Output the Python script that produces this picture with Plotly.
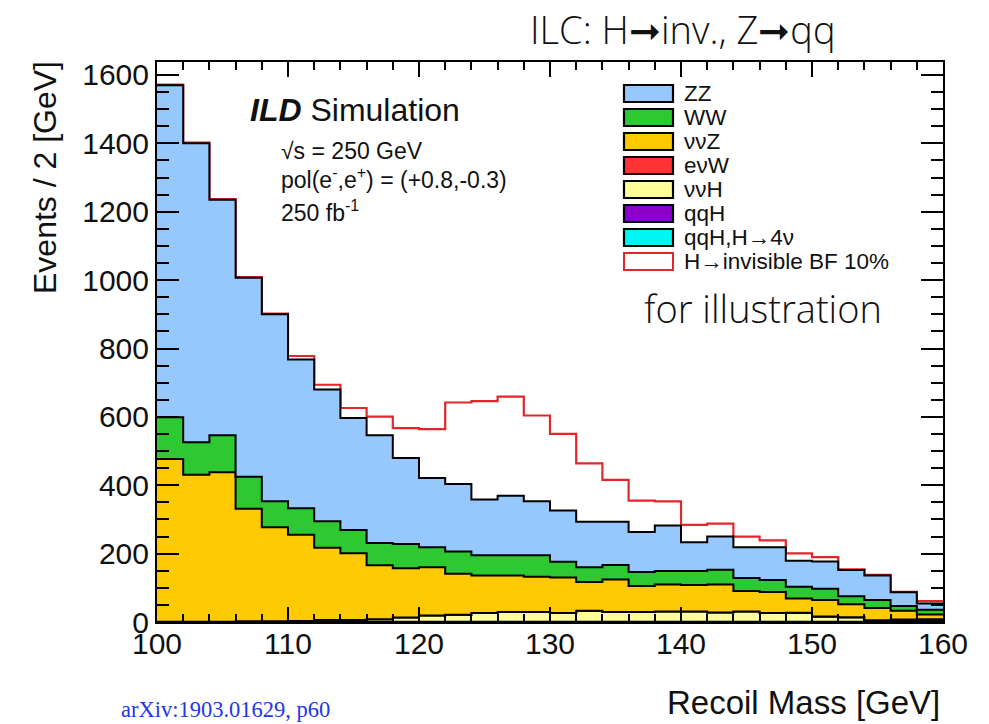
import plotly.graph_objects as go

# Recoil mass bins: 2 GeV wide, 100-160 GeV (lower edges)
bin_low = list(range(100, 160, 2))
bin_width = 2

# Stacked backgrounds, events per bin (250 fb^-1)
zz = [971, 874, 689, 582, 547, 435, 385, 328, 315, 252, 202, 198, 163, 174, 158,
      150, 133, 126, 117, 133, 84, 97, 90, 96, 76, 80, 77, 72, 40, 18]
ww = [122, 95, 108, 94, 76, 78, 78, 68, 65, 71, 59, 65, 59, 59, 63,
      46, 43, 43, 41, 39, 41, 43, 38, 35, 34, 33, 23, 23, 14, 14]
nnz = [476, 430, 437, 329, 275, 252, 211, 195, 158, 144, 141, 120, 110, 107, 103,
       104, 84, 95, 76, 79, 77, 82, 60, 62, 42, 48, 38, 36, 26, 14]
enw = [0, 0, 0, 0, 0, 0, 0, 0, 0, 0, 0, 0, 0, 0, 0,
       0, 0, 0, 0, 0, 0, 0, 0, 0, 1, 1, 1, 1, 2, 3]
nnh = [0, 0, 0, 1, 1, 2, 5, 5, 7, 12, 18, 20, 25, 28, 28,
       25, 32, 28, 28, 30, 30, 27, 30, 25, 25, 14, 12, 3, 3, 3]
qqh = [1, 1, 1, 1, 1, 1, 1, 1, 1, 1, 1, 1, 1, 1, 1,
       1, 1, 1, 1, 1, 1, 1, 1, 1, 1, 1, 1, 1, 1, 1]
qqh_4nu = [0, 0, 0, 0, 0, 0, 0, 0, 0, 0, 0, 0, 0, 0, 0,
           0, 0, 0, 0, 0, 0, 0, 0, 0, 0, 0, 0, 0, 1, 1]
# H -> invisible signal (BF 10%), drawn on top of the background sum
h_inv = [2, 2, 2, 2, 2, 10, 14, 29, 55, 87, 143, 238, 288, 290, 251,
         224, 171, 123, 92, 71, 51, 38, 31, 20, 22, 13, 2, 2, 1, 7]

# Stack order, bottom to top: (label, values, fill colour)
stack = [
    ("qqH,H\u21924\u03bd", qqh_4nu, "#00f5f5"),
    ("qqH", qqh, "#8a00c8"),
    ("\u03bd\u03bdH", nnh, "#ffff99"),
    ("e\u03bdW", enw, "#ff3333"),
    ("\u03bd\u03bdZ", nnz, "#fdc900"),
    ("WW", ww, "#2ec832"),
    ("ZZ", zz, "#96c8fd"),
]
legend_order = ["ZZ", "WW", "\u03bd\u03bdZ", "e\u03bdW", "\u03bd\u03bdH", "qqH",
                "qqH,H\u21924\u03bd"]

edges = bin_low + [bin_low[-1] + bin_width]


def steps(vals):
    # repeat the last bin so the 'hv' step closes at the upper edge
    return list(vals) + [vals[-1]]


fig = go.Figure()

total = [sum(s[1][i] for s in stack) for i in range(len(bin_low))]
sig_line = [t + s for t, s in zip(total, h_inv)]
fig.add_trace(go.Scatter(
    x=edges, y=steps(sig_line), mode="lines",
    line=dict(shape="hv", color="#e3262b", width=2.2),
    showlegend=False, hoverinfo="skip"))

for name, vals, col in stack:
    fig.add_trace(go.Scatter(
        x=edges, y=steps(vals), mode="lines", name=name,
        line=dict(shape="hv", color="black", width=2),
        fillcolor=col, stackgroup="bkg",
        showlegend=False, hoverinfo="skip"))

# pixel helpers for the plot frame (157..943 x 62..622)
L, R, T, B = 157, 943, 62, 622


def px(x):
    return (x - L) / (R - L)


def py(y):
    return (B - y) / (B - T)


shapes = []
annotations = []
colours = {n: c for n, _, c in stack}
row_y = [93.5 + 24 * i for i in range(8)]
for i, name in enumerate(legend_order + ["H\u2192invisible BF 10%"]):
    y = row_y[i]
    if i < len(legend_order):
        shapes.append(dict(type="rect", xref="paper", yref="paper",
                           x0=px(624), x1=px(673), y0=py(y + 8.5), y1=py(y - 8.5),
                           fillcolor=colours[name], line=dict(color="black", width=2.2)))
    else:
        shapes.append(dict(type="rect", xref="paper", yref="paper",
                           x0=px(624), x1=px(673), y0=py(y + 8.5), y1=py(y - 8.5),
                           fillcolor="white", line=dict(color="#e3262b", width=2)))
    annotations.append(dict(xref="paper", yref="paper", x=px(682), y=py(y),
                            xanchor="left", yanchor="middle", text=name,
                            showarrow=False,
                            font=dict(family="Liberation Sans", size=22.5, color="#111")))

text_font = dict(family="Liberation Sans", color="#111")
annotations += [
    dict(xref="paper", yref="paper", x=px(248), y=py(110), xanchor="left",
         yanchor="middle", showarrow=False,
         text="<b><i>ILD</i></b> Simulation", font=dict(text_font, size=32)),
    dict(xref="paper", yref="paper", x=px(279), y=py(151), xanchor="left",
         yanchor="middle", showarrow=False,
         text="\u221as = 250 GeV", font=dict(text_font, size=23)),
    dict(xref="paper", yref="paper", x=px(279), y=py(178), xanchor="left",
         yanchor="middle", showarrow=False,
         text="pol(e<sup>-</sup>,e<sup>+</sup>) = (+0.8,-0.3)",
         font=dict(text_font, size=23)),
    dict(xref="paper", yref="paper", x=px(279), y=py(211), xanchor="left",
         yanchor="middle", showarrow=False,
         text="250 fb<sup>-1</sup>", font=dict(text_font, size=23)),
    dict(xref="paper", yref="paper", x=px(942), y=py(702), xanchor="right",
         yanchor="middle", showarrow=False,
         text="Recoil Mass [GeV]", font=dict(text_font, size=33)),
    dict(xref="paper", yref="paper", x=px(45), y=py(178), xanchor="center",
         yanchor="middle", showarrow=False, textangle=-90,
         text="Events / 2 [GeV]", font=dict(text_font, size=32)),
    dict(xref="paper", yref="paper", x=px(683), y=py(29), xanchor="center",
         yanchor="middle", showarrow=False,
         text="ILC: H\u279einv., Z\u279eqq",
         font=dict(family="Open Sans", size=38, color="#111", weight=300)),
    dict(xref="paper", yref="paper", x=px(763), y=py(308), xanchor="center",
         yanchor="middle", showarrow=False, text="for illustration",
         font=dict(family="Open Sans", size=38, color="#111", weight=300)),
    dict(xref="paper", yref="paper", x=px(119), y=py(709), xanchor="left",
         yanchor="middle", showarrow=False, text="arXiv:1903.01629, p60",
         font=dict(family="Liberation Serif", size=22.5, color="#2236e8")),
]

axis_common = dict(
    showgrid=False, zeroline=False, showline=True, linecolor="black",
    linewidth=2, mirror="allticks", ticks="inside", tickcolor="black",
    tickwidth=2, tickfont=dict(family="Liberation Sans", size=30, color="#111"),
)

fig.update_layout(
    width=989, height=724,
    margin=dict(l=L, r=989 - R, t=T, b=724 - B),
    paper_bgcolor="white", plot_bgcolor="white",
    showlegend=False,
    xaxis=dict(axis_common, range=[100, 160], dtick=10, tick0=100, ticklen=15,
               ticklabelstandoff=-6,
               minor=dict(dtick=2, ticklen=8, ticks="inside", tickcolor="black",
                          tickwidth=1.5)),
    yaxis=dict(axis_common, range=[0, 1638], dtick=200, tick0=0, ticklen=22,
               minor=dict(dtick=50, ticklen=12, ticks="inside", tickcolor="black",
                          tickwidth=1.5)),
    shapes=shapes, annotations=annotations,
)

fig.write_html("out.html")
